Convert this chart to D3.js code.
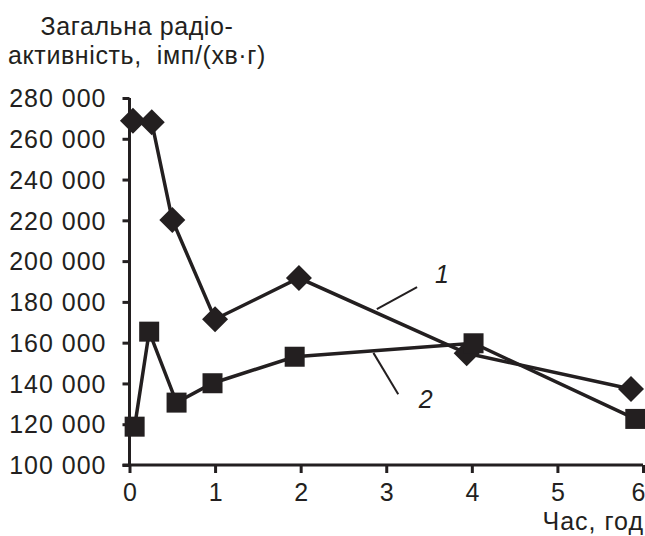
<!DOCTYPE html>
<html><head><meta charset="utf-8">
<script src="https://cdn.jsdelivr.net/npm/d3@7"></script>
<style>html,body{margin:0;padding:0;background:#fff;}svg{display:block;font-family:"Liberation Sans",Arial,sans-serif;}</style>
</head><body>
<svg id="chart" width="645" height="536"></svg>
<script>
const titleLines = ["Загальна радіо-", "активність,  імп/(хв·г)"];
const xLabel = "Час, год";
const xTicks = [0, 1, 2, 3, 4, 5, 6];
const yTicks = [100000, 120000, 140000, 160000, 180000, 200000, 220000, 240000, 260000, 280000];
const series1X = [0.04, 0.26, 0.5, 1.0, 1.98, 3.94, 5.86];
const series1Y = [268900, 268100, 220200, 171500, 191700, 154800, 137300];
const series2X = [0.06, 0.23, 0.55, 0.97, 1.93, 4.02, 5.91];
const series2Y = [118800, 165400, 130600, 140100, 153100, 159700, 122600];
const seriesLabels = ["1", "2"];
// leader lines in data units: [x1, y1, x2, y2]
const leader1 = [2.89, 176400, 3.36, 187300];
const leader2 = [2.85, 155000, 3.14, 134700];
const label1Pos = [3.65, 189300];
const label2Pos = [3.46, 128000];

const ink = "#231f20";
const svg = d3.select("#chart");
const x = d3.scaleLinear().domain([0, 6]).range([129.5, 643]);
const y = d3.scaleLinear().domain([100000, 280000]).range([465, 98]);

// title
svg.append("g").selectAll("text").data(titleLines).join("text")
  .attr("x", 137).attr("y", (d, i) => 35 + i * 29)
  .style("white-space", "pre")
  .attr("text-anchor", "middle").attr("font-size", 25).attr("letter-spacing", 0.6).attr("fill", ink)
  .text(d => d);

const fmt = v => d3.format(",")(v).replace(/,/g, " ");

// y axis
const yAxis = svg.append("g").attr("transform", `translate(${x(0)},0)`)
  .call(d3.axisLeft(y).tickValues(yTicks).tickFormat(fmt).tickSize(7).tickPadding(16));
yAxis.select(".domain").attr("stroke", ink).attr("stroke-width", 3).attr("d", `M0,${y(280000)}V${y(100000)}`);
yAxis.selectAll(".tick line").attr("stroke", ink).attr("stroke-width", 3);
yAxis.selectAll(".tick text").attr("font-size", 25).attr("letter-spacing", 1).attr("fill", ink)
  .attr("font-family", "Liberation Sans, Arial, sans-serif").attr("dy", "0.35em");

// x axis
const xAxis = svg.append("g").attr("transform", `translate(0,${y(100000)})`)
  .call(d3.axisBottom(x).tickValues(xTicks).tickFormat(d3.format("d")).tickSize(8).tickPadding(10));
xAxis.select(".domain").attr("stroke", ink).attr("stroke-width", 3).attr("d", `M${x(0) - 7},0H${x(6)}`);
xAxis.selectAll(".tick line").attr("stroke", ink).attr("stroke-width", 3);
xAxis.selectAll(".tick text").attr("font-size", 25).attr("fill", ink).attr("font-family", "Liberation Sans, Arial, sans-serif")
  .attr("dx", d => d === 6 ? -5 : 0);

svg.append("text").attr("x", 644).attr("y", 530).attr("text-anchor", "end")
  .attr("font-size", 25).attr("letter-spacing", 1).attr("fill", ink).text(xLabel);

const line = d3.line().x(d => x(d[0])).y(d => y(d[1]));
const s1 = series1X.map((v, i) => [v, series1Y[i]]);
const s2 = series2X.map((v, i) => [v, series2Y[i]]);

// leader lines
[leader1, leader2].forEach(l => {
  svg.append("line").attr("x1", x(l[0])).attr("y1", y(l[1])).attr("x2", x(l[2])).attr("y2", y(l[3]))
    .attr("stroke", ink).attr("stroke-width", 2);
});

svg.append("path").datum(s1).attr("d", line).attr("fill", "none").attr("stroke", ink).attr("stroke-width", 3.5);
svg.append("g").selectAll("path").data(s1).join("path")
  .attr("transform", d => `translate(${x(d[0])},${y(d[1])})`)
  .attr("d", "M0,-13L13,0L0,13L-13,0Z").attr("fill", ink);

svg.append("path").datum(s2).attr("d", line).attr("fill", "none").attr("stroke", ink).attr("stroke-width", 3.5);
svg.append("g").selectAll("rect").data(s2).join("rect")
  .attr("x", d => x(d[0]) - 10).attr("y", d => y(d[1]) - 10)
  .attr("width", 20).attr("height", 20).attr("fill", ink);

// series labels
[[label1Pos, seriesLabels[0]], [label2Pos, seriesLabels[1]]].forEach(([p, t]) => {
  svg.append("text").attr("x", x(p[0])).attr("y", y(p[1])).attr("text-anchor", "middle")
    .attr("font-size", 25).attr("font-style", "italic").attr("fill", ink).text(t);
});
</script>
</body></html>
